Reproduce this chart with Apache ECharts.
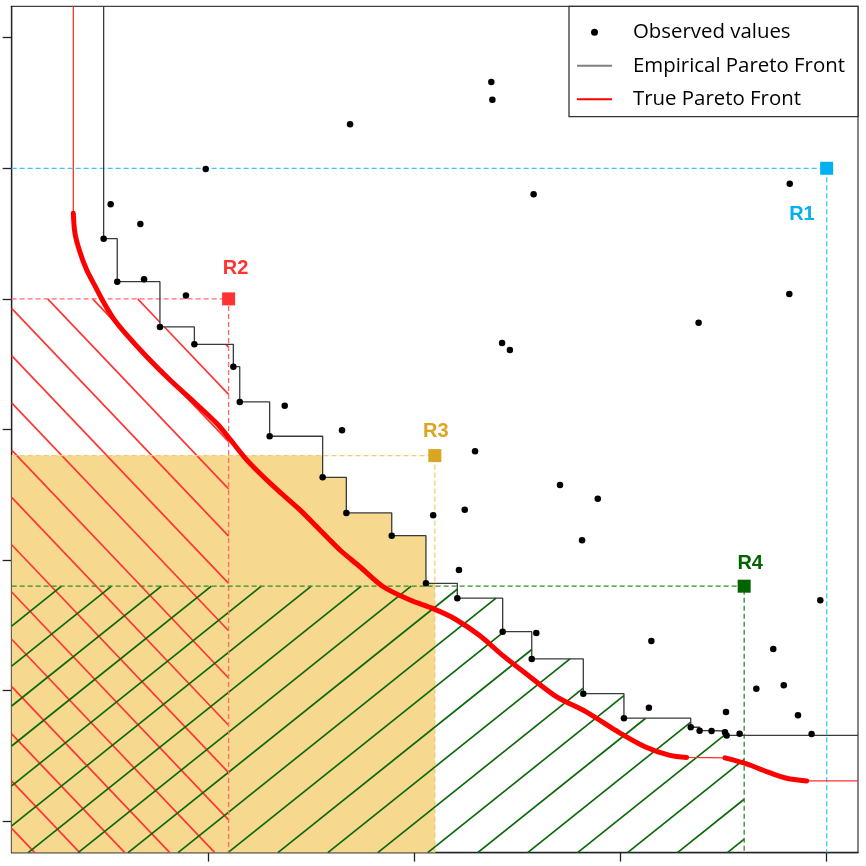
<!DOCTYPE html>
<html><head><meta charset="utf-8">
<script src="https://cdn.jsdelivr.net/npm/echarts@6/dist/echarts.min.js"></script>
<style>html,body{margin:0;padding:0;background:#fff}#c{width:866px;height:866px}</style>
</head><body><div id="c"></div>
<script>
// ---------------- data ----------------
const obsX = [0.494,0.560,0.767,0.934,1.123,1.154,1.299,1.556,1.671,1.891,2.057,2.209,2.429,2.570,2.820,3.017,3.341,3.384,3.442,3.507,3.515,
  0.528,0.672,0.690,0.893,0.989,1.372,1.650,1.689,2.374,2.379,2.579,2.092,2.245,2.295,2.217,2.592,2.707,2.890,2.814,3.150,3.138,3.379,3.512,3.578,3.659,3.741,3.792,3.861,3.927,3.969,3.821,3.819,2.426,2.464];
const obsY = [5.461,5.132,4.785,4.652,4.481,4.211,3.948,3.634,3.361,3.187,2.822,2.708,2.452,2.243,1.977,1.789,1.720,1.694,1.691,1.681,1.657,
  5.724,5.574,5.150,5.026,5.995,4.182,3.994,6.337,6.661,6.525,5.801,3.343,3.386,3.833,2.924,2.442,3.575,3.470,3.152,2.381,1.870,4.818,1.837,1.671,2.015,2.319,2.041,1.812,1.668,2.692,5.882,5.038,4.662,4.609];
const trueX = [0.347,0.355,0.379,0.412,0.452,0.492,0.541,0.606,0.703,0.816,0.929,1.042,1.107,1.188,1.276,1.359,1.446,1.543,1.640,1.737,1.850,1.980,2.092,2.198,2.319,2.432,2.561,2.691,2.836,2.982,3.119,3.240,3.321,null,3.507,3.612,3.709,3.806,3.903];
const trueY = [5.655,5.502,5.359,5.221,5.099,4.979,4.851,4.724,4.557,4.379,4.216,4.047,3.925,3.767,3.626,3.506,3.384,3.230,3.077,2.949,2.796,2.694,2.628,2.549,2.420,2.266,2.107,1.953,1.836,1.691,1.571,1.504,1.489,null,1.485,1.439,1.380,1.329,1.309];
const refNames = ['R1','R2','R3','R4'];
const refX = [4.0,1.1,2.1,3.6];
const refY = [6.0,5.0,3.8,2.8];
const xTicks = [1,2,3,4];
const yTicks = [1,2,3,4,5,6,7];

// ---------------- styles / layout ----------------
const X_MIN=0.048, X_MAX=4.152, Y_MIN=0.76, Y_MAX=7.24;
const refStyle = {
  R1:{color:'#00B0F0', dash:'#3CC8F2', label:[-24.7,46]},
  R2:{color:'#FF3333', dash:'#FF6A6A', label:[7,-30], hatch:{angle:46.4, spacing:32.6, color:'#FF3535', anchor:[0,302]}},
  R3:{color:'#DAA520', dash:'#F1CB72', label:[1,-23.7], fill:'#F6D88F'},
  R4:{color:'#006400', dash:'#2E8B2E', label:[6,-22.7], hatch:{angle:-38.66, spacing:31.2, color:'#0A680A', anchor:[49.3,580.3]}}
};

// ---------------- derived ----------------
const obs = obsX.map((x,i)=>[x,obsY[i]]);
const sorted = obs.slice().sort((a,b)=>a[0]-b[0]||a[1]-b[1]);
const front=[]; let best=Infinity;
for (const p of sorted){ if (p[1]<best){front.push(p); best=p[1];} }
const empData = [[front[0][0], Y_MAX], ...front, [X_MAX, front[front.length-1][1]]];

const truePts = trueX.map((x,i)=>[x,trueY[i]]);
const segs=[[]];
truePts.forEach(p=>{ if(p[0]===null){segs.push([]);} else segs[segs.length-1].push(p); });
const allTrue = truePts.filter(p=>p[0]!==null);
const thinData = [[allTrue[0][0], Y_MAX], ...allTrue, [X_MAX, allTrue[allTrue.length-1][1]]];

function regionPoly(api, cs, rx, ry){
  const R = api.coord([rx, ry]);
  const left = cs.x, bottom = cs.y + cs.height;
  const pts=[[left,bottom],[left,R[1]]];
  let top=R[1];
  for (const f of front){
    const p = api.coord(f);
    if (p[0] >= R[0]) break;
    if (p[1] > top){ const x=Math.max(p[0],left); pts.push([x,top],[x,p[1]]); top=p[1]; }
  }
  pts.push([R[0],top],[R[0],bottom]);
  return pts;
}
function hatchSegments(poly, angleDeg, spacing, anchor){
  const a=angleDeg*Math.PI/180, dx=Math.cos(a), dy=Math.sin(a), nx=-dy, ny=dx;
  const c0=nx*anchor[0]+ny*anchor[1];
  let cmin=Infinity,cmax=-Infinity;
  const cv=poly.map(p=>{const c=nx*p[0]+ny*p[1]; cmin=Math.min(cmin,c); cmax=Math.max(cmax,c); return c;});
  const out=[];
  for(let k=Math.ceil((cmin-c0)/spacing); k<=Math.floor((cmax-c0)/spacing); k++){
    const c=c0+k*spacing, hits=[];
    for(let i=0;i<poly.length;i++){
      const j=(i+1)%poly.length, ca=cv[i], cb=cv[j];
      if((ca<c&&cb>=c)||(cb<c&&ca>=c)){
        const t=(c-ca)/(cb-ca);
        const x=poly[i][0]+t*(poly[j][0]-poly[i][0]), y=poly[i][1]+t*(poly[j][1]-poly[i][1]);
        hits.push([x,y,dx*x+dy*y]);
      }
    }
    hits.sort((p,q)=>p[2]-q[2]);
    for(let m=0;m+1<hits.length;m+=2) out.push([hits[m],hits[m+1]]);
  }
  return out;
}
const refData = refNames.map((n,i)=>[refX[i],refY[i],i]);

const chart = echarts.init(document.getElementById('c'), null, {renderer:'canvas'});
const axisCol='#222';
chart.setOption({
  animation:false,
  backgroundColor:'#fff',
  grid:{left:11.66, top:6.36, width:846.34, height:846.24, show:true, borderColor:'#444', borderWidth:1.3, containLabel:false},
  xAxis:{type:'value', min:X_MIN, max:X_MAX, splitLine:{show:false}, axisLabel:{show:false},
    axisLine:{show:true, onZero:false, lineStyle:{color:axisCol, width:1.3}},
    axisTick:{show:true, customValues:xTicks, length:9, inside:false, lineStyle:{color:axisCol, width:1.3}}},
  yAxis:{type:'value', min:Y_MIN, max:Y_MAX, splitLine:{show:false}, axisLabel:{show:false},
    axisLine:{show:true, onZero:false, lineStyle:{color:axisCol, width:1.3}},
    axisTick:{show:true, customValues:yTicks, length:9, inside:false, lineStyle:{color:axisCol, width:1.3}}},
  legend:{orient:'vertical', left:577, top:22.3, padding:0, itemGap:13.5, itemWidth:35, itemHeight:7,
    selectedMode:false, z:60,
    textStyle:{fontFamily:'Open Sans', fontSize:20.4, color:'#000', lineHeight:20, padding:[0,0,0,16]},
    data:[
      {name:'Observed values', icon:'circle', itemStyle:{color:'#000', opacity:1}},
      {name:'Empirical Pareto Front', icon:'path://M0,0H35V2H0Z', itemStyle:{color:'#808080', borderWidth:0}},
      {name:'True Pareto Front', icon:'path://M0,0H35V2H0Z', itemStyle:{color:'#ff0000', borderWidth:0}}
    ]},
  graphic:[{type:'rect', shape:{x:569, y:6.36, width:289, height:110.3}, style:{fill:'#fff', stroke:'#333', lineWidth:1.3}, z:50}],
  series:[
    {type:'custom', name:'fill', coordinateSystem:'cartesian2d', encode:{x:0,y:1}, data:refData, z:1,
      renderItem:(params, api)=>{
        const st=refStyle[refNames[api.value(2)]];
        if(!st.fill) return {type:'group', children:[]};
        const poly=regionPoly(api, params.coordSys, api.value(0), api.value(1));
        return {type:'polygon', shape:{points:poly}, style:{fill:st.fill, stroke:null}};
      }},
    {type:'custom', name:'hatch', coordinateSystem:'cartesian2d', encode:{x:0,y:1}, data:refData, z:2,
      renderItem:(params, api)=>{
        const st=refStyle[refNames[api.value(2)]];
        if(!st.hatch) return {type:'group', children:[]};
        const cs=params.coordSys;
        const poly=regionPoly(api, cs, api.value(0), api.value(1));
        const h=st.hatch;
        const s=hatchSegments(poly, h.angle, h.spacing, [cs.x+h.anchor[0], cs.y+h.anchor[1]]);
        return {type:'group', children:s.map(g=>({type:'line', shape:{x1:g[0][0],y1:g[0][1],x2:g[1][0],y2:g[1][1]}, style:{stroke:h.color, lineWidth:1.7}}))};
      }},
    {type:'custom', name:'refLines', coordinateSystem:'cartesian2d', encode:{x:0,y:1}, data:refData, z:3,
      renderItem:(params, api)=>{
        const st=refStyle[refNames[api.value(2)]];
        const cs=params.coordSys;
        const R=api.coord([api.value(0), api.value(1)]);
        return {type:'polyline', shape:{points:[[cs.x,R[1]],[R[0],R[1]],[R[0],cs.y+cs.height]]},
          style:{stroke:st.dash, lineWidth:1.3, lineDash:[5,3], fill:null}};
      }},
    {type:'line', name:'True Pareto Front', data:thinData, showSymbol:false, symbol:'none', z:4,
      lineStyle:{color:'#ff3030', width:1.3}, itemStyle:{color:'#ff0000'}},
    ...segs.map((sg,k)=>({type:'line', name:'trueThick'+k, data:sg, showSymbol:false, symbol:'none', smooth:0.3, z:5,
      lineStyle:{color:'#ff0000', width:5, cap:'round', join:'round'}})),
    {type:'line', name:'Empirical Pareto Front', data:empData, step:'end', showSymbol:false, symbol:'none', z:6,
      lineStyle:{color:'#3a3a3a', width:1.3}, itemStyle:{color:'#808080'}},
    {type:'scatter', name:'Observed values', data:obs, symbol:'circle', symbolSize:6.5, z:7, itemStyle:{color:'#000', opacity:1}},
    {type:'scatter', name:'refs', z:8, symbol:'rect', symbolSize:13,
      data:refNames.map((n,i)=>({value:[refX[i],refY[i]], name:n, itemStyle:{color:refStyle[n].color, opacity:1},
        label:{show:true, position:'inside', offset:refStyle[n].label, formatter:n, color:refStyle[n].color, opacity:1,
          fontSize:20, fontWeight:'bold', fontFamily:'Liberation Sans'}}))}
  ]
});
</script></body></html>
